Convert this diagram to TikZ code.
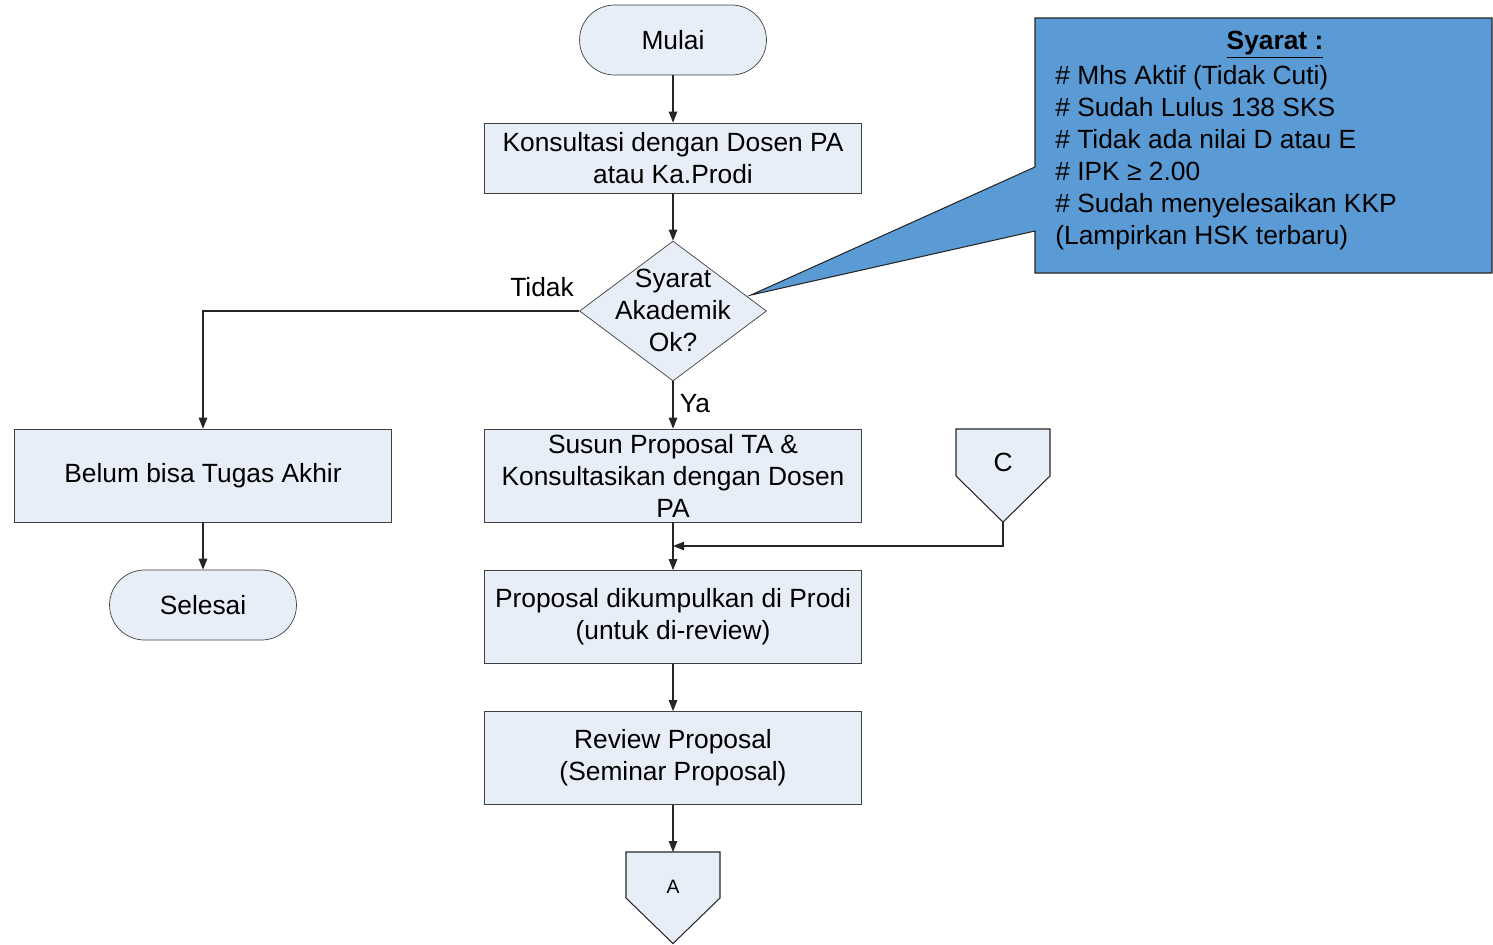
\documentclass[tikz,border=0pt]{standalone}
\usepackage{fontspec}
\setmainfont{Liberation Sans}
\usetikzlibrary{positioning,arrows.meta,shapes.geometric}

\definecolor{boxfill}{RGB}{232,238,247}
\definecolor{notefill}{RGB}{91,155,213}

\tikzset{
    txt/.style={font=\fontsize{15}{18.2}\selectfont, align=center},
    terminal/.style={txt, draw=black!75, fill=boxfill, rounded corners=0.7cm,
        minimum width=3.74cm, minimum height=1.4cm, inner sep=0},
    process/.style={txt, draw=black!75, fill=boxfill,
        minimum width=7.54cm, minimum height=1.86cm, inner sep=0},
    decision/.style={diamond, draw=black!75, fill=boxfill,
        minimum width=3.74cm, minimum height=2.8cm, inner sep=0},
    offpage/.style={draw=black!75, fill=boxfill},
    line/.style={draw=black!85, line width=0.6pt},
}

\begin{document}
\begin{tikzpicture}[x=0.02cm, y=-0.02cm, >={Triangle[length=2.2mm,width=1.7mm]}]
        \useasboundingbox (0,0) rectangle (1493,944);

        % callout with requirements
        \draw[line, fill=notefill] (1035,18) -- (1492,18) -- (1492,273) -- (1035,273)
            -- (1035,231) -- (751,295) -- (1035,167) -- cycle;
        \node[txt] (syarattitle) at (1275,45) {\underline{\textbf{Syarat :}}};
        \node[txt, align=left, anchor=west, inner sep=0] (syaratlist) at (1055,158)
            {\# Mhs Aktif (Tidak Cuti)\\
             \# Sudah Lulus 138 SKS\\
             \# Tidak ada nilai D atau E\\
             \# IPK ≥ 2.00\\
             \# Sudah menyelesaikan KKP\\
             (Lampirkan HSK terbaru)};

        % main flow
        \node[terminal] (mulai) at (673,40) {Mulai};
        \node[process, minimum height=1.4cm] (konsul) at (673,158)
            {Konsultasi dengan Dosen PA\\atau Ka.Prodi};
        \node[decision] (syarat) at (673,311) {};
        \node[txt, inner sep=0] (syarattext) at (673,310) {Syarat\\Akademik\\Ok?};
        \node[process] (belum) at (203,475.5) {Belum bisa Tugas Akhir};
        \node[terminal] (selesai) at (203,605) {Selesai};
        \node[process] (susun) at (673,475.5)
            {Susun Proposal TA \&\\Konsultasikan dengan Dosen\\PA};
        \node[process] (kumpul) at (673,617)
            {Proposal dikumpulkan di Prodi\\(untuk di-review)};
        \node[process] (review) at (673,758)
            {Review Proposal\\(Seminar Proposal)};

        % off-page connectors
        \draw[offpage, line] (956,429) -- (1050,429) -- (1050,476) -- (1003,522)
            -- (956,476) -- cycle;
        \node[txt] (c) at (1003,462) {C};
        \coordinate (cbot) at (1003,522);
        \draw[offpage, line] (626,852) -- (720,852) -- (720,898) -- (673,943.5)
            -- (626,898) -- cycle;
        \node[txt, font=\fontsize{11}{13}\selectfont] (a) at (673,887) {A};
        \coordinate (atop) at (673,852);
        \coordinate (join) at (673,546);

        % connectors
        \draw[line, ->] (mulai) -- (konsul);
        \draw[line, ->] (konsul) -- (syarat);
        \draw[line, ->] (syarat.west) -| (belum.north);
        \node[txt] (tidak) at (542,287) {Tidak};
        \draw[line, ->] (syarat.south) -- (susun.north);
        \node[txt] (ya) at (695,404) {Ya};
        \draw[line, ->] (belum) -- (selesai);
        \draw[line, ->] (susun) -- (kumpul);
        \draw[line, ->] (cbot) |- (join);
        \draw[line, ->] (kumpul) -- (review);
        \draw[line, ->] (review.south) -- (atop);
    \end{tikzpicture}
\end{document}
